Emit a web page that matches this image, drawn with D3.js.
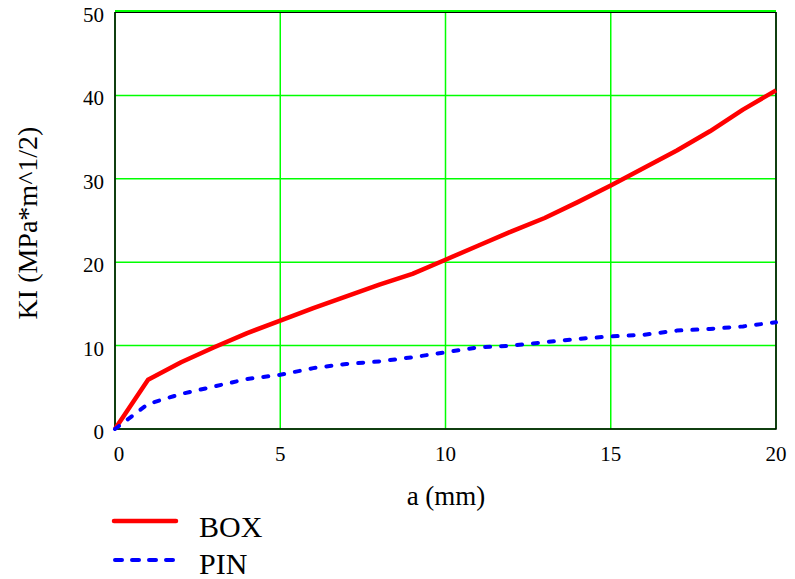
<!DOCTYPE html>
<html><head><meta charset="utf-8">
<script src="https://cdn.jsdelivr.net/npm/d3@7"></script>
<style>
body{margin:0;background:#fff;}
svg{display:block;}
</style></head>
<body>
<script>
const aValues = [0,1,2,3,4,5,6,7,8,9,10,11,12,13,14,15,16,17,18,19,20];
const boxValues = [0,5.9,8.0,9.8,11.5,13.0,14.5,15.9,17.3,18.6,20.3,22.0,23.7,25.3,27.2,29.2,31.3,33.4,35.7,38.3,40.6];
const pinValues = [0,3.0,4.2,5.1,6.0,6.5,7.3,7.8,8.1,8.6,9.2,9.8,10.0,10.4,10.8,11.1,11.3,11.8,12.0,12.3,12.8];
const xTicks = [0,5,10,15,20];
const yTicks = [0,10,20,30,40,50];
const seriesNames = ["BOX","PIN"];

const FONT = "'Liberation Serif', 'Times New Roman', Times, serif";
const W=795,H=579;
const svg=d3.select("body").append("svg").attr("width",W).attr("height",H)
  .attr("font-family",FONT);
const L=115,R=776,T=12,B=429;
const x=d3.scaleLinear().domain([0,20]).range([L,R]);
const y=d3.scaleLinear().domain([0,50]).range([B,T]);

// grid
const g=svg.append("g");
g.selectAll(".vg").data(xTicks).join("line")
  .attr("x1",d=>x(d)).attr("x2",d=>x(d)).attr("y1",T).attr("y2",B)
  .attr("stroke","#00ff00").attr("stroke-width",1.5);
g.selectAll(".hg").data(yTicks).join("line")
  .attr("y1",d=>y(d)).attr("y2",d=>y(d)).attr("x1",L).attr("x2",R)
  .attr("stroke","#00ff00").attr("stroke-width",1.5);

// frame
svg.append("path").attr("d",`M${L},${T}V${B}H${R}V${T}`)
  .attr("fill","none").attr("stroke","#000").attr("stroke-width",1.5);
svg.append("line").attr("x1",L).attr("x2",R).attr("y1",T-1).attr("y2",T-1)
  .attr("stroke","#00ff00").attr("stroke-width",2);
svg.append("line").attr("x1",L).attr("x2",R).attr("y1",T+0.5).attr("y2",T+0.5)
  .attr("stroke","#000").attr("stroke-width",1);

// tick labels
svg.append("g").selectAll("text").data(xTicks).join("text")
  .attr("font-family",FONT)
  .attr("x",d=>x(d)+(d===0?4:0)).attr("y",461).attr("text-anchor","middle")
  .attr("font-size",21).text(d=>d);
svg.append("g").selectAll("text").data(yTicks).join("text")
  .attr("font-family",FONT)
  .attr("x",104).attr("y",d=>y(d)+10).attr("text-anchor","end")
  .attr("font-size",21).text(d=>d);

// axis titles
svg.append("text").attr("font-family",FONT).attr("x",446).attr("y",505).attr("text-anchor","middle")
  .attr("font-size",27).text("a (mm)");
svg.append("text").attr("font-family",FONT).attr("transform","translate(37,223) rotate(-90)")
  .attr("text-anchor","middle").attr("font-size",28).text("KI (MPa*m^1/2)");

// lines
const line=d3.line().x((d,i)=>x(aValues[i])).y(d=>y(d));
svg.append("path").datum(boxValues).attr("d",line).attr("fill","none")
  .attr("stroke","#ff0000").attr("stroke-width",4.5).attr("stroke-linejoin","round");
svg.append("path").datum(pinValues).attr("d",line).attr("fill","none")
  .attr("stroke","#0000ff").attr("stroke-width",4).attr("stroke-dasharray","5,11")
  .attr("stroke-linecap","round");

// legend
const leg=svg.append("g");
leg.append("line").attr("x1",114).attr("x2",176).attr("y1",521).attr("y2",521)
  .attr("stroke","#ff0000").attr("stroke-width",4.5).attr("stroke-linecap","round");
leg.append("line").attr("x1",115).attr("x2",176).attr("y1",560).attr("y2",560)
  .attr("stroke","#0000ff").attr("stroke-width",4).attr("stroke-dasharray","7,10")
  .attr("stroke-linecap","round");
leg.append("text").attr("font-family",FONT).attr("x",199).attr("y",537).attr("font-size",30).text(seriesNames[0]);
leg.append("text").attr("font-family",FONT).attr("x",199).attr("y",574).attr("font-size",30).text(seriesNames[1]);
</script>
</body></html>
